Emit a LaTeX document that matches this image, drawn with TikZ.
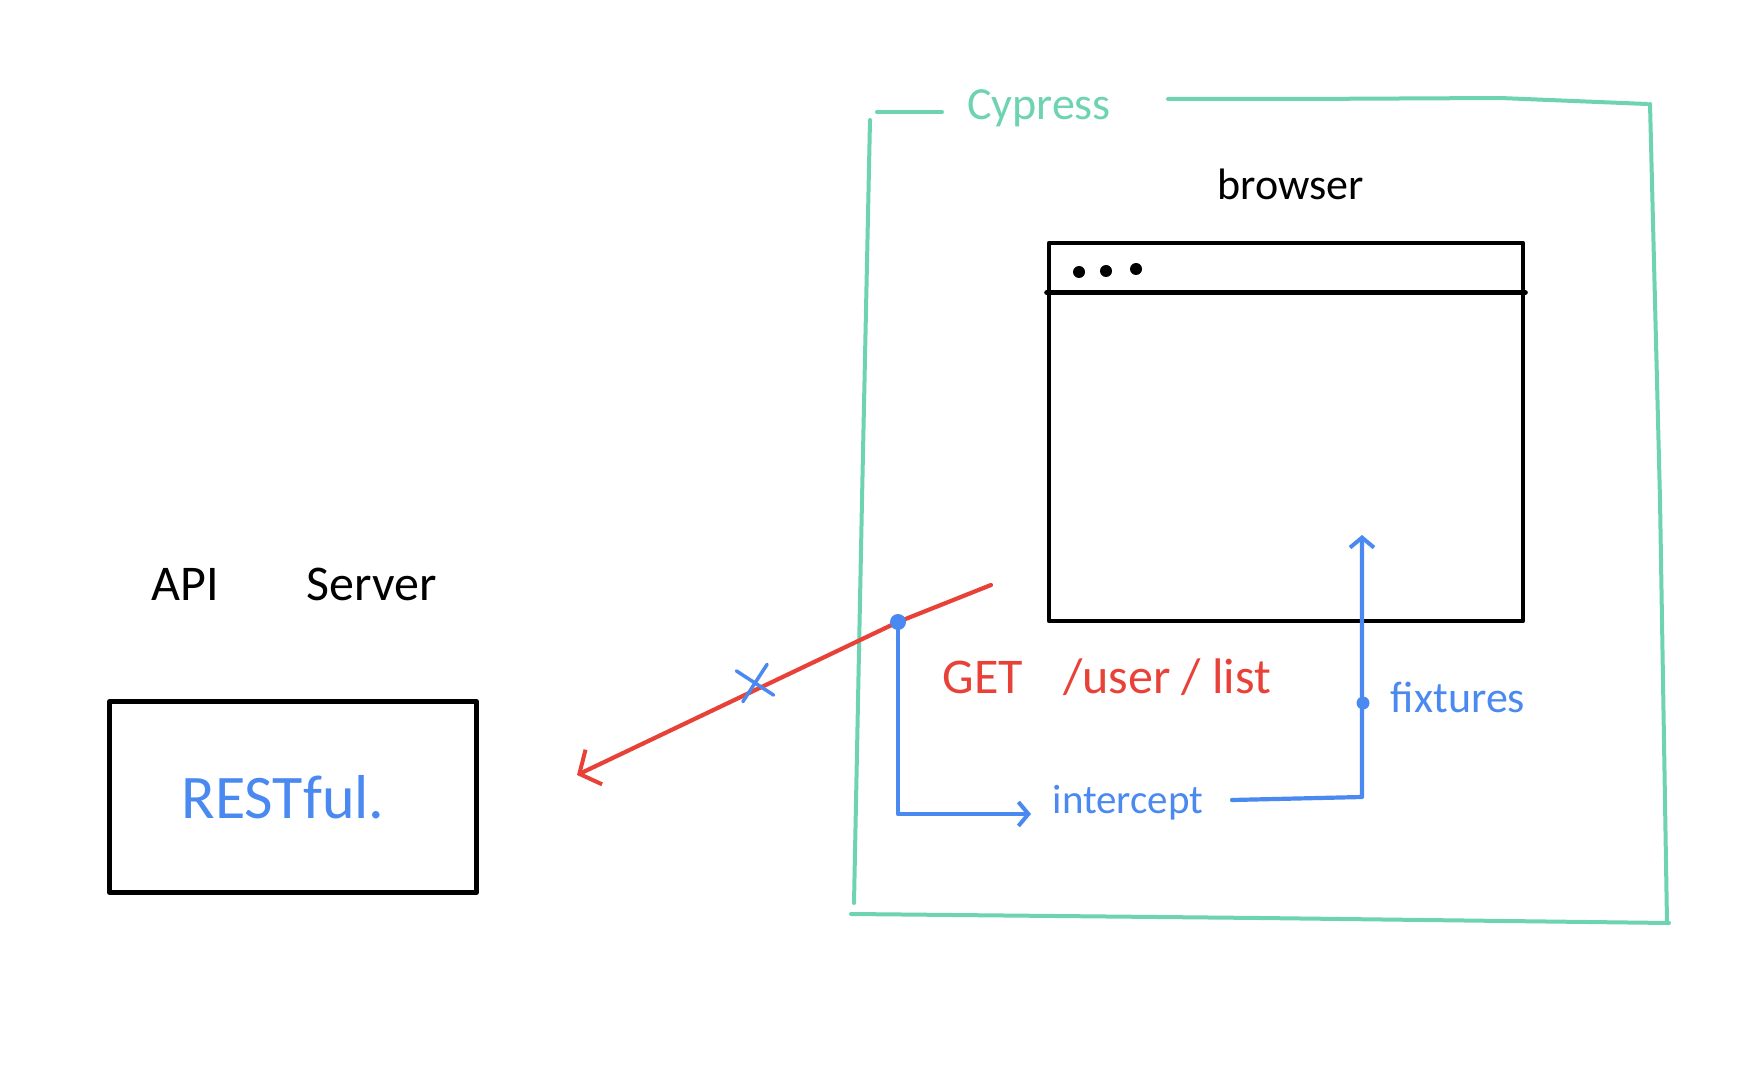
\documentclass[tikz,border=0pt]{standalone}
\usepackage{fontspec}
\setmainfont{Carlito}
\usetikzlibrary{arrows.meta,shapes.misc}
\definecolor{cyg}{RGB}{109,211,176}
\definecolor{skb}{RGB}{74,137,240}
\definecolor{rdl}{RGB}{232,66,56}
\begin{document}
\begin{tikzpicture}[x=1pt,y=-1pt,line cap=round,line join=round,
  hand/.style={inner sep=0pt,font=\fontsize{44}{48}\selectfont},
  frameline/.style={draw=cyg,line width=4pt},
  blk/.style={draw=black,line width=4.8pt},
  bl/.style={draw=skb,line width=4.2pt},
  rd/.style={draw=rdl,line width=4.2pt},
  dot/.style={circle,fill,inner sep=0pt,minimum size=#1},
  barb/.style={-{Straight Barb[length=#1,width=2.4*#1,line width=4pt]}}]
\useasboundingbox (0,0) rectangle (1748,1075);

% Cypress frame
\node[hand,text=cyg,font=\fontsize{46}{50}\selectfont] (cy) at (1039,108) {Cypress};
\draw[frameline] (942,112) -- (877,112);
\draw[frameline] (870,120) -- (862,500) -- (854,903);
\draw[frameline] (851,914) -- (1260,918) -- (1669,923);
\draw[frameline] (1667,923) -- (1660,500) -- (1650,104);
\draw[frameline] (1647,104) -- (1500,98) -- (1300,99) -- (1168,99);

% browser
\node[hand,font=\fontsize{44}{48}\selectfont] (brl) at (1291,184) {browser};
\node[blk,rectangle,minimum width=474pt,minimum height=378pt] (bw) at (1286,432) {};
\draw[blk] ([yshift=-52pt]bw.north west) -- ([yshift=-52pt]bw.north east);
\node[dot=12pt] (d1) at (1079,272) {};
\node[dot=12pt] (d2) at (1106,271) {};
\node[dot=12pt] (d3) at (1136,269) {};

% API server
\node[hand,font=\fontsize{50}{54}\selectfont] (api) at (294,584) {API\hspace{88pt}Server};
\node[blk,rectangle,minimum width=367pt,minimum height=191pt] (rb) at (293,797) {};
\node[hand,text=skb,font=\fontsize{62}{66}\selectfont] (rt) at (283,797) {RESTful.};

% red request
\coordinate (rs) at (991,585);
\coordinate (bdc) at (898,622);
\coordinate (re) at (577,775);
\draw[rd,barb=16pt] (rs) -- (bdc) -- (re);
\node[cross out,draw=skb,line width=3.5pt,minimum size=28pt,inner sep=0pt,rotate=12] (xm) at (755,683) {};
\node[hand,text=rdl,font=\fontsize{50}{54}\selectfont] (get) at (1107,677) {GET\hspace{40pt}/user / list};

% intercept
\node[hand,text=skb,font=\fontsize{41}{45}\selectfont] (ic) at (1128,803) {intercept};
\coordinate (ia) at (1031,814);
\node[dot=16pt,fill=skb] (bd) at (bdc) {};
\draw[bl,barb=10pt] (bd.south) |- (ia);

% fixtures
\coordinate (fe) at (1232,800);
\coordinate (fc) at (1362,797);
\coordinate (ft) at (1362,535);
\draw[bl,barb=10pt] (fe) -- (fc) -- (ft);
\node[dot=13pt,fill=skb] (fd) at (1363,703) {};
\node[hand,text=skb,font=\fontsize{44}{48}\selectfont] (fx) at (1458,697) {fixtures};
\end{tikzpicture}
\end{document}
